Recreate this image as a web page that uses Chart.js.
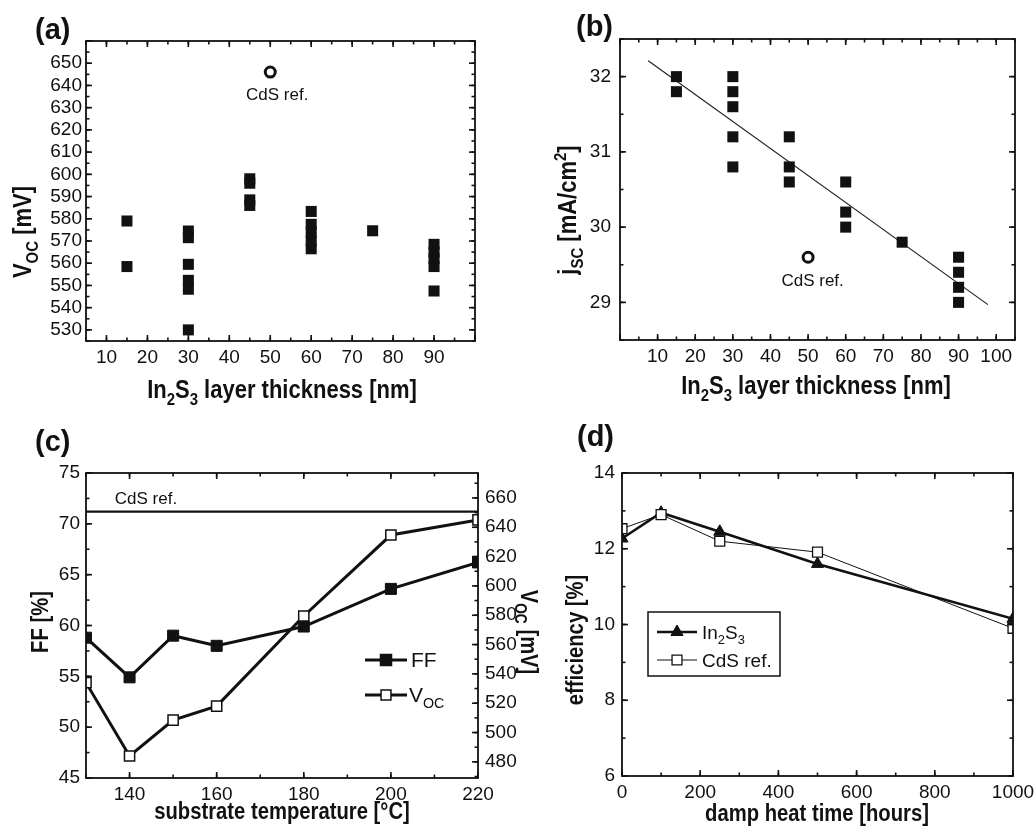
<!DOCTYPE html>
<html>
<head>
<meta charset="utf-8">
<script src="https://cdn.jsdelivr.net/npm/chart.js@4.4.0/dist/chart.umd.min.js"></script>
<style>
html, body { margin: 0; padding: 0; background: #fff; }
#wrap { position: relative; width: 1035px; height: 830px; }
#wrap canvas { position: absolute; left: 0; top: 0; }
</style>
</head>
<body>
<div id="wrap">
  <canvas id="chartA" width="1035" height="830"></canvas>
  <canvas id="chartB" width="1035" height="830"></canvas>
  <canvas id="chartC" width="1035" height="830"></canvas>
  <canvas id="chartD" width="1035" height="830"></canvas>
</div>
<script>
// (a) Voc vs In2S3 layer thickness
const thickA = [15, 15, 30, 30, 30, 30, 30, 30, 45, 45, 45, 45, 60, 60, 60, 60, 60, 75, 90, 90, 90, 90, 90];
const vocA = [579, 558.5, 574.5, 571.5, 559.5, 552.3, 548.3, 530, 598, 596, 588.5, 586, 583.3, 577.5, 574, 570, 566.5, 574.6, 568.5, 565, 562, 558.5, 547.5];
const refThickA = [50];
const refVocA = [646];
const xTicksA = [10, 20, 30, 40, 50, 60, 70, 80, 90];
const yTicksA = [530, 540, 550, 560, 570, 580, 590, 600, 610, 620, 630, 640, 650];

// (b) jsc vs In2S3 layer thickness
const thickB = [15, 15, 30, 30, 30, 30, 30, 45, 45, 45, 60, 60, 60, 75, 90, 90, 90, 90];
const jscB = [32.0, 31.8, 32.0, 31.8, 31.6, 31.2, 30.8, 31.2, 30.8, 30.6, 30.6, 30.2, 30.0, 29.8, 29.6, 29.4, 29.2, 29.0];
const fitThickB = [7.5, 97.8];
const fitJscB = [32.21, 28.97];
const refThickB = [50];
const refJscB = [29.6];
const xTicksB = [10, 20, 30, 40, 50, 60, 70, 80, 90, 100];
const yTicksB = [29, 30, 31, 32];

// (c) FF and Voc vs substrate temperature
const tempC = [130, 140, 150, 160, 180, 200, 220];
const ffC = [58.8, 54.9, 59.0, 58.0, 59.9, 63.6, 66.2];
const vocC = [534, 484, 508.5, 518, 579.5, 634.7, 645];
const refTempC = [130, 220];
const refFfC = [71.2, 71.2];
const xTicksC = [140, 160, 180, 200, 220];
const yTicksC = [45, 50, 55, 60, 65, 70, 75];
const y2TicksC = [480, 500, 520, 540, 560, 580, 600, 620, 640, 660];

// (d) efficiency vs damp heat time
const timeD = [0, 100, 250, 500, 1000];
const effInD = [12.27, 12.95, 12.45, 11.6, 10.15];
const effCdsD = [12.53, 12.9, 12.2, 11.91, 9.9];
const xTicksD = [0, 200, 400, 600, 800, 1000];
const yTicksD = [6, 8, 10, 12, 14];

const FONT = '"Liberation Sans", Arial, Helvetica, sans-serif';
const INK = '#111';
Chart.defaults.font.family = FONT;
Chart.defaults.color = INK;

function pts(xs, ys) {
    return xs.map((x, i) => ({ x: x, y: ys[i] }));
}

// text with sub/superscripts, drawn at a baseline point
function drawRich(ctx, t) {
    const weight = t.bold ? 'bold ' : '';
    const sx = t.sx || 1;
    const segs = t.parts.map(p => {
        const s = p[1] ? t.size * 0.68 : t.size;
        ctx.font = weight + s + 'px ' + FONT;
        return { text: p[0], mode: p[1] || '', s: s, w: ctx.measureText(p[0]).width };
    });
    const total = segs.reduce((acc, s) => acc + s.w, 0);
    ctx.save();
    ctx.translate(t.x, t.y);
    if (t.rot) ctx.rotate(t.rot * Math.PI / 180);
    ctx.scale(sx, 1);
    ctx.fillStyle = INK;
    ctx.textAlign = 'left';
    ctx.textBaseline = 'alphabetic';
    let x = t.align === 'left' ? 0 : -total / 2;
    segs.forEach(s => {
        ctx.font = weight + s.s + 'px ' + FONT;
        const dy = s.mode === 'sub' ? t.size * 0.28 : (s.mode === 'sup' ? -t.size * 0.42 : 0);
        ctx.fillText(s.text, x, dy);
        x += s.w;
    });
    ctx.restore();
}

// frame, inward ticks, titles, notes and legends
const decoPlugin = {
    id: 'deco',
    afterDraw(chart, args, opts) {
        const ctx = chart.ctx;
        const a = chart.chartArea;
        ctx.save();
        ctx.strokeStyle = INK;
        ctx.lineWidth = 1.6;
        (opts.ticks || []).forEach(t => {
            const sc = chart.scales[t.scale];
            [[t.major, 6], [t.minor, 3.5]].forEach(([step, len]) => {
                if (!step) return;
                for (let i = Math.ceil(sc.min / step - 1e-9); i * step <= sc.max + 1e-9; i++) {
                    const p = sc.getPixelForValue(i * step);
                    t.sides.forEach(side => {
                        ctx.beginPath();
                        if (side === 'bottom') { ctx.moveTo(p, a.bottom); ctx.lineTo(p, a.bottom - len); }
                        if (side === 'top') { ctx.moveTo(p, a.top); ctx.lineTo(p, a.top + len); }
                        if (side === 'left') { ctx.moveTo(a.left, p); ctx.lineTo(a.left + len, p); }
                        if (side === 'right') { ctx.moveTo(a.right, p); ctx.lineTo(a.right - len, p); }
                        ctx.stroke();
                    });
                }
            });
        });
        ctx.lineWidth = 1.8;
        ctx.strokeRect(a.left, a.top, a.right - a.left, a.bottom - a.top);
        (opts.texts || []).forEach(t => drawRich(ctx, t));
        (opts.notes || []).forEach(n => {
            const x = chart.scales.x.getPixelForValue(n.x);
            const y = chart.scales[n.scale || 'y'].getPixelForValue(n.y);
            drawRich(ctx, { parts: n.parts, x: x, y: y, size: n.size, align: n.align });
        });
        if (opts.legend) opts.legend(ctx);
        ctx.restore();
    }
};

function axis(pos, min, max, tickVals, size, pad) {
    return {
        type: 'linear',
        position: pos,
        min: min,
        max: max,
        grid: { display: false, drawTicks: false },
        border: { display: false },
        ticks: {
            font: { size: 19 },
            color: INK,
            padding: pad,
            maxRotation: 0,
            autoSkip: false,
            callback: v => String(v)
        },
        afterBuildTicks: sc => { sc.ticks = tickVals.map(v => ({ value: v })); },
        afterFit: sc => {
            if (sc.isHorizontal()) sc.height = size; else sc.width = size;
            sc.paddingLeft = sc.paddingRight = sc.paddingTop = sc.paddingBottom = 0;
        }
    };
}

function layoutFor(plot, leftW, bottomH, rightW) {
    return {
        padding: {
            left: plot.l - leftW,
            top: plot.t,
            right: 1035 - plot.r - (rightW || 0),
            bottom: 830 - plot.b - bottomH
        }
    };
}

function baseOptions(plot, scales, deco, rightW) {
    return {
        responsive: false,
        animation: false,
        devicePixelRatio: 1,
        events: [],
        layout: layoutFor(plot, 60, 40, rightW),
        scales: scales,
        plugins: { legend: { display: false }, tooltip: { enabled: false }, deco: deco }
    };
}

const inTitle = [['In'], ['2', 'sub'], ['S'], ['3', 'sub'], [' layer thickness [nm]']];

// ---------- (a) ----------
new Chart(document.getElementById('chartA'), {
    type: 'scatter',
    data: {
        datasets: [{
            data: pts(thickA, vocA),
            pointStyle: 'rect', pointRadius: 7.8,
            backgroundColor: INK, borderColor: INK, borderWidth: 0
        }, {
            data: pts(refThickA, refVocA),
            pointStyle: 'circle', pointRadius: 5,
            backgroundColor: '#fff', borderColor: INK, borderWidth: 3
        }]
    },
    options: baseOptions({ l: 86, t: 41, r: 475, b: 341 }, {
        x: axis('bottom', 5, 100, xTicksA, 40, 5),
        y: axis('left', 525, 660, yTicksA, 60, 4)
    }, {
        ticks: [
            { scale: 'x', major: 10, minor: 5, sides: ['bottom', 'top'] },
            { scale: 'y', major: 10, minor: 5, sides: ['left', 'right'] }
        ],
        texts: [
            { parts: [['(a)']], x: 35, y: 39, size: 29, bold: true, align: 'left' },
            { parts: inTitle, x: 282, y: 398, size: 25, bold: true, sx: 0.88 },
            { parts: [['V'], ['OC', 'sub'], [' [mV]']], x: 31, y: 232, size: 25, bold: true, sx: 0.88, rot: -90 }
        ],
        notes: [{ parts: [['CdS ref.']], x: 51.7, y: 633.4, size: 17 }]
    }),
    plugins: [decoPlugin]
});

// ---------- (b) ----------
new Chart(document.getElementById('chartB'), {
    type: 'scatter',
    data: {
        datasets: [{
            data: pts(thickB, jscB),
            pointStyle: 'rect', pointRadius: 7.8,
            backgroundColor: INK, borderColor: INK, borderWidth: 0
        }, {
            data: pts(fitThickB, fitJscB),
            showLine: true, pointRadius: 0,
            borderColor: '#222', borderWidth: 1.2
        }, {
            data: pts(refThickB, refJscB),
            pointStyle: 'circle', pointRadius: 5,
            backgroundColor: '#fff', borderColor: INK, borderWidth: 3
        }]
    },
    options: baseOptions({ l: 620, t: 39, r: 1015, b: 340 }, {
        x: axis('bottom', 0, 105, xTicksB, 40, 5),
        y: axis('left', 28.5, 32.5, yTicksB, 60, 9)
    }, {
        ticks: [
            { scale: 'x', major: 10, minor: 5, sides: ['bottom', 'top'] },
            { scale: 'y', major: 1, minor: 0.5, sides: ['left', 'right'] }
        ],
        texts: [
            { parts: [['(b)']], x: 576, y: 36, size: 29, bold: true, align: 'left' },
            { parts: inTitle, x: 816, y: 394, size: 25, bold: true, sx: 0.88 },
            { parts: [['j'], ['SC', 'sub'], [' [mA/cm'], ['2', 'sup'], [']']], x: 576, y: 210, size: 25, bold: true, sx: 0.88, rot: -90 }
        ],
        notes: [{ parts: [['CdS ref.']], x: 51.2, y: 29.22, size: 17 }]
    }),
    plugins: [decoPlugin]
});

// ---------- (c) ----------
const scalesC = {
    x: axis('bottom', 130, 220, xTicksC, 40, 5),
    y: axis('left', 45, 75, yTicksC, 60, 6),
    y1: axis('right', 469, 677, y2TicksC, 50, 7)
};
new Chart(document.getElementById('chartC'), {
    type: 'scatter',
    data: {
        datasets: [{
            data: pts(tempC, vocC), yAxisID: 'y1',
            showLine: true, borderColor: INK, borderWidth: 3,
            pointStyle: 'rect', pointRadius: 7.2,
            pointBackgroundColor: '#fff', pointBorderColor: INK, pointBorderWidth: 1.5
        }, {
            data: pts(tempC, ffC), yAxisID: 'y',
            showLine: true, borderColor: INK, borderWidth: 3,
            pointStyle: 'rect', pointRadius: 7.8,
            pointBackgroundColor: INK, pointBorderColor: INK, pointBorderWidth: 1
        }, {
            data: pts(refTempC, refFfC), yAxisID: 'y',
            showLine: true, borderColor: INK, borderWidth: 2.2, pointRadius: 0
        }]
    },
    options: baseOptions({ l: 86, t: 473, r: 478, b: 778 }, scalesC, {
        ticks: [
            { scale: 'x', major: 20, minor: 10, sides: ['bottom', 'top'] },
            { scale: 'y', major: 5, minor: 2.5, sides: ['left'] },
            { scale: 'y1', major: 20, minor: 10, sides: ['right'] }
        ],
        texts: [
            { parts: [['(c)']], x: 35, y: 451, size: 29, bold: true, align: 'left' },
            { parts: [['substrate temperature [°C]']], x: 282, y: 819, size: 23, bold: true, sx: 0.88 },
            { parts: [['FF [%]']], x: 48, y: 622, size: 23, bold: true, sx: 0.88, rot: -90 },
            { parts: [['V'], ['OC', 'sub'], [' [mV]']], x: 521, y: 632, size: 23, bold: true, sx: 0.88, rot: 90 }
        ],
        notes: [{ parts: [['CdS ref.']], x: 136.6, y: 71.92, size: 17, align: 'left' }],
        legend: ctx => {
            ctx.strokeStyle = INK;
            ctx.lineWidth = 3;
            [[660, INK, 7.8], [695, '#fff', 7]].forEach(([y, fill, r]) => {
                ctx.beginPath(); ctx.moveTo(365, y); ctx.lineTo(407, y); ctx.stroke();
                ctx.fillStyle = fill; ctx.lineWidth = 1.5;
                Chart.helpers.drawPoint(ctx, { pointStyle: 'rect', radius: r, borderWidth: 1.5, rotation: 0 }, 386, y);
                ctx.lineWidth = 3;
            });
            drawRich(ctx, { parts: [['FF']], x: 411, y: 667, size: 21, align: 'left' });
            drawRich(ctx, { parts: [['V'], ['OC', 'sub']], x: 409, y: 702, size: 21, align: 'left' });
        }
    }, 50),
    plugins: [decoPlugin]
});

// ---------- (d) ----------
new Chart(document.getElementById('chartD'), {
    type: 'scatter',
    data: {
        datasets: [{
            data: pts(timeD, effCdsD),
            showLine: true, borderColor: INK, borderWidth: 1,
            pointStyle: 'rect', pointRadius: 7,
            pointBackgroundColor: '#fff', pointBorderColor: INK, pointBorderWidth: 1.3
        }, {
            data: pts(timeD, effInD),
            showLine: true, borderColor: INK, borderWidth: 2.6,
            pointStyle: 'triangle', pointRadius: 7,
            pointBackgroundColor: INK, pointBorderColor: INK, pointBorderWidth: 1
        }]
    },
    options: baseOptions({ l: 622, t: 473, r: 1013, b: 776 }, {
        x: axis('bottom', 0, 1000, xTicksD, 40, 5),
        y: axis('left', 6, 14, yTicksD, 60, 7)
    }, {
        ticks: [
            { scale: 'x', major: 200, minor: 100, sides: ['bottom', 'top'] },
            { scale: 'y', major: 2, minor: 1, sides: ['left', 'right'] }
        ],
        texts: [
            { parts: [['(d)']], x: 577, y: 446, size: 29, bold: true, align: 'left' },
            { parts: [['damp heat time [hours]']], x: 817, y: 821, size: 23, bold: true, sx: 0.88 },
            { parts: [['efficiency [%]']], x: 583, y: 640, size: 23, bold: true, sx: 0.88, rot: -90 }
        ],
        legend: ctx => {
            ctx.strokeStyle = INK;
            ctx.lineWidth = 1.5;
            ctx.strokeRect(648, 612, 132, 64);
            ctx.lineWidth = 2.6;
            ctx.beginPath(); ctx.moveTo(657, 632); ctx.lineTo(697, 632); ctx.stroke();
            ctx.fillStyle = INK; ctx.lineWidth = 1;
            Chart.helpers.drawPoint(ctx, { pointStyle: 'triangle', radius: 7, borderWidth: 1, rotation: 0 }, 677, 632);
            ctx.lineWidth = 1;
            ctx.beginPath(); ctx.moveTo(657, 660); ctx.lineTo(697, 660); ctx.stroke();
            ctx.fillStyle = '#fff'; ctx.lineWidth = 1.3;
            Chart.helpers.drawPoint(ctx, { pointStyle: 'rect', radius: 7, borderWidth: 1.3, rotation: 0 }, 677, 660);
            drawRich(ctx, { parts: [['In'], ['2', 'sub'], ['S'], ['3', 'sub']], x: 702, y: 639, size: 19, align: 'left' });
            drawRich(ctx, { parts: [['CdS ref.']], x: 702, y: 667, size: 19, align: 'left' });
        }
    }),
    plugins: [decoPlugin]
});
</script>
</body>
</html>
